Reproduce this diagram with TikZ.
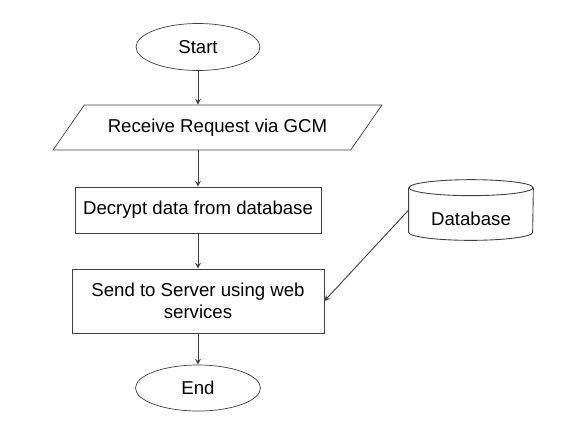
\documentclass[tikz,border=0pt]{standalone}
\usepackage{fontspec}
\setmainfont{Liberation Sans}
\usetikzlibrary{shapes.geometric}

\begin{document}
\begin{tikzpicture}
[x=0.02cm,y=-0.02cm,%
  font=\fontsize{10.6}{12.5}\selectfont,
  lineDecorate/.style={->,>=stealth,draw=black!75,line width=0.5pt},
  termDecorate/.style={shape=ellipse,draw=black!75,inner sep=0pt},
  boxDecorate/.style={shape=rectangle,draw=black!75,inner sep=2pt,align=center},
  ioDecorate/.style={shape=trapezium,trapezium stretches=true,
    trapezium left angle=34,trapezium right angle=146,draw=black!75,inner sep=0pt},
  dbDecorate/.style={draw=black!75,line width=0.5pt}]
%%
\useasboundingbox (0,0) rectangle (563,440);
%%
%% flow steps
\node (start) at (198,47) [termDecorate,minimum width=2.48cm,minimum height=0.94cm] {Start};
\node (recv) at (217.5,127.5) [ioDecorate,minimum width=6.58cm,minimum height=0.9cm] {Receive Request via GCM};
\node (decrypt) at (198,210) [boxDecorate,minimum width=4.92cm,minimum height=0.92cm] {Decrypt data from database};
\node (send) at (198,301) [boxDecorate,minimum width=5.04cm,minimum height=1.28cm] {Send to Server using web\\services};
\node (end) at (198,388) [termDecorate,minimum width=2.5cm,minimum height=0.92cm] {End};
%%
%% data store, drawn as a cylinder round the node db
\node (db) at (471,210) [minimum width=2.48cm,minimum height=1.2cm,inner sep=0pt] {};
\node (dbtext) at (471,219) {Database};
\draw[dbDecorate] ([yshift=-0.16cm]db.north) ellipse [x radius=1.24cm,y radius=0.16cm];
\draw[dbDecorate] ([yshift=-0.16cm]db.north west) -- ([yshift=0.16cm]db.south west)
  arc [start angle=180,end angle=360,x radius=1.24cm,y radius=0.16cm]
  -- ([yshift=-0.16cm]db.north east);
%%
%% edges or lines
\path
(start.south) edge[lineDecorate] node {} (start.south |- recv.north)
(recv.south -| decrypt.north) edge[lineDecorate] node {} (decrypt.north)
(decrypt) edge[lineDecorate] node {} (send)
(send) edge[lineDecorate] node {} (end)
(db.west) edge[lineDecorate] node {} (send.east);
\end{tikzpicture}
\end{document}
